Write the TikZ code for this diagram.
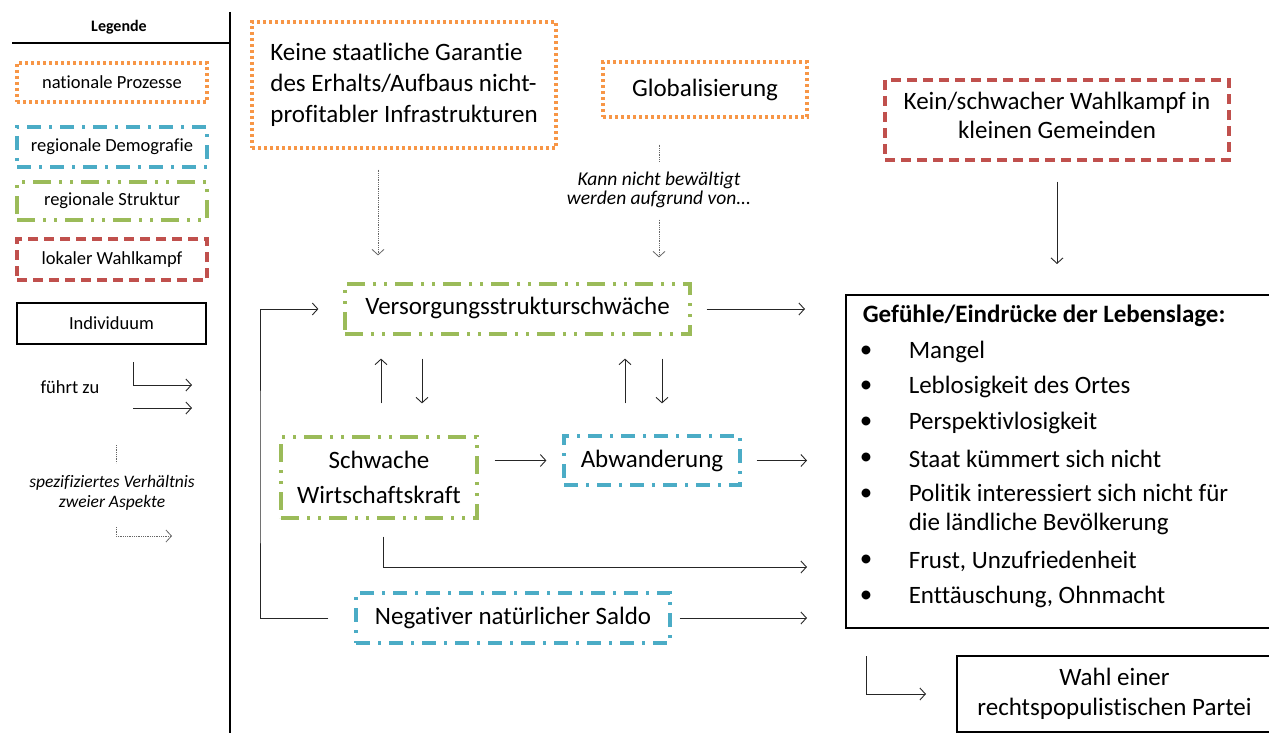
\documentclass[tikz,border=0pt]{standalone}
\usepackage{fontspec}
\setmainfont[Ligatures=NoCommon]{Carlito}
\usetikzlibrary{arrows.meta,positioning,calc}

\definecolor{natorange}{HTML}{F79646}
\definecolor{demblue}{HTML}{4BACC6}
\definecolor{strgreen}{HTML}{9BBB59}
\definecolor{wkred}{HTML}{C0504D}

\newcommand{\maintxt}{\fontsize{25}{31}\selectfont}
\newcommand{\legtxt}{\fontsize{18.5}{20}\selectfont}
\newcommand{\smalltxt}{\fontsize{19.5}{19}\selectfont\itshape}

\begin{document}
\begin{tikzpicture}
[x=1pt, y=-1pt, line width=0.9pt, >={Straight Barb[length=5.5pt,width=12pt]},
natbox/.style={rectangle, draw=natorange, line width=3.2pt, dash pattern=on 3pt off 3pt, inner sep=0pt, align=center},
dembox/.style={rectangle, draw=demblue, line width=3.2pt, dash pattern=on 14pt off 8pt on 3pt off 8pt, inner sep=0pt, align=center},
strbox/.style={rectangle, draw=strgreen, line width=3.2pt, dash pattern=on 18pt off 8pt on 3pt off 8pt on 3pt off 8pt, inner sep=0pt, align=center},
wkbox/.style={rectangle, draw=wkred, line width=3.2pt, dash pattern=on 10pt off 6pt, inner sep=0pt, align=center},
indbox/.style={rectangle, draw, line width=2pt, inner sep=0pt, align=center},
leads/.style={->, draw=black!85},
specrel/.style={->, draw=black!60, densely dotted, line width=0.8pt}]

\useasboundingbox (0,0) rectangle (1269,733);

% Legende
\node[font=\fontsize{16}{18}\selectfont\bfseries] (legende) at (119,27) {Legende};
\coordinate (sepl) at (12,43);
\coordinate (sepr) at (230,43);
\coordinate (septop) at (230,12);
\coordinate (sepbot) at (230,733);
\draw[line width=1.4pt] (sepl) -- (sepr);
\draw[line width=1.4pt] (septop) -- (sepbot);

\node[natbox, minimum width=190, minimum height=39, font=\legtxt] (lnat) at (112,82.5) {nationale Prozesse};
\node[dembox, minimum width=190, minimum height=40, font=\legtxt] (ldem) at (112,147) {regionale Demografie};
\node[strbox, minimum width=190, minimum height=38, font=\legtxt] (lstr) at (112,201) {regionale Struktur};
\node[wkbox, minimum width=190, minimum height=41, font=\legtxt] (lwk) at (112,259.5) {lokaler Wahlkampf};
\node[indbox, minimum width=189, minimum height=41, font=\legtxt] (lind) at (111.5,323.5) {Individuum};

\node[font=\legtxt] (fuehrt) at (70,387) {führt zu};
\coordinate (fa1) at (133,362);
\coordinate (fa1e) at (192,385);
\coordinate (fa2) at (133,408);
\coordinate (fa2e) at (192,408);
\draw[leads] (fa1) |- (fa1e);
\draw[leads] (fa2) -- (fa2e);

\coordinate (sp1) at (116,445);
\coordinate (sp1e) at (116,463);
\draw[specrel, -] (sp1) -- (sp1e);
\node[font=\fontsize{17.5}{20}\selectfont\itshape, align=center] (spez) at (112,493) {spezifiziertes Verhältnis\\zweier Aspekte};
\coordinate (sp2) at (116,527);
\coordinate (sp2e) at (172,536);
\draw[specrel] (sp2) |- (sp2e);

% nationale Prozesse
\node[natbox, minimum width=304, minimum height=126, font=\maintxt, align=left] (ksg) at (404,85)
  {Keine staatliche Garantie\\des Erhalts/Aufbaus nicht-\\profitabler Infrastrukturen};
\node[natbox, minimum width=204, minimum height=55, font=\maintxt] (glob) at (705,89.5) {Globalisierung};

% lokaler Wahlkampf
\node[wkbox, minimum width=344, minimum height=80, font=\fontsize{25}{29}\selectfont] (kwk) at (1057,120)
  {Kein/schwacher Wahlkampf in\\kleinen Gemeinden\rule[-9pt]{0pt}{0pt}};

% regionale Struktur / Demografie
\node[strbox, minimum width=345, minimum height=50, font=\maintxt] (vss) at (517.5,309) {Versorgungsstrukturschwäche\rule[-6pt]{0pt}{0pt}};
\node[strbox, minimum width=196, minimum height=81, font=\fontsize{25}{35}\selectfont] (swk) at (379,477.5) {Schwache\\Wirtschaftskraft};
\node[dembox, minimum width=176, minimum height=49, font=\maintxt] (abw) at (652,460.5) {Abwanderung};
\node[dembox, minimum width=314, minimum height=50, font=\maintxt] (nns) at (513,618) {Negativer natürlicher Saldo};

% Individuum
\node[indbox, minimum width=426, minimum height=333] (gef) at (1059,461.5) {};
\node[font=\maintxt\bfseries, anchor=west] (gtitle) at (859,316) {Gefühle/Eindrücke der Lebenslage:};
\node[font=\maintxt] (b1) at (866,352) {\textbullet};
\node[font=\maintxt, anchor=west] (g1) at (905,352) {Mangel};
\node[font=\maintxt] (b2) at (866,387) {\textbullet};
\node[font=\maintxt, anchor=west] (g2) at (905,387) {Leblosigkeit des Ortes};
\node[font=\maintxt] (b3) at (866,423) {\textbullet};
\node[font=\maintxt, anchor=west] (g3) at (905,423) {Perspektivlosigkeit};
\node[font=\maintxt] (b4) at (866,459) {\textbullet};
\node[font=\maintxt, anchor=west] (g4) at (905,459) {Staat kümmert sich nicht};
\node[font=\maintxt] (b5) at (866,495) {\textbullet};
\node[font=\fontsize{25}{29}\selectfont, anchor=west, align=left] (g5) at (905,509.5) {Politik interessiert sich nicht für\\die ländliche Bevölkerung};
\node[font=\maintxt] (b6) at (866,561) {\textbullet};
\node[font=\maintxt, anchor=west] (g6) at (905,561) {Frust, Unzufriedenheit};
\node[font=\maintxt] (b7) at (866,597) {\textbullet};
\node[font=\maintxt, anchor=west] (g7) at (905,597) {Enttäuschung, Ohnmacht};

\node[indbox, minimum width=315, minimum height=76, font=\fontsize{25}{30}\selectfont] (wahl) at (1114.5,694)
  {Wahl einer\\rechtspopulistischen Partei};

% Verhaeltnisse
\draw[specrel, shorten <=20pt, shorten >=27pt] (ksg.south -| 378,0) -- (vss.north -| 378,0);
\node[font=\smalltxt, align=center] (kann) at (659,190) {Kann nicht bewältigt\\werden aufgrund von...};
\draw[specrel, -, shorten <=26pt, shorten >=7pt] (kann.north |- glob.south) -- (kann.north);
\draw[specrel, shorten <=8pt, shorten >=25pt] (kann.south) -- (kann.south |- vss.north);

% fuehrt zu
\draw[leads, shorten <=20pt, shorten >=30pt] (kwk.south) -- (kwk.south |- gef.north);
\draw[leads, shorten <=15pt, shorten >=40pt] (vss.east) -- (vss.east -| gef.west);
\draw[leads, shorten <=32pt, shorten >=23pt] (swk.north -| 381,0) -- (vss.south -| 381,0);
\draw[leads, shorten <=23pt, shorten >=32pt] (vss.south -| 422,0) -- (swk.north -| 422,0);
\draw[leads, shorten <=31pt, shorten >=23pt] (abw.north -| 625,0) -- (vss.south -| 625,0);
\draw[leads, shorten <=23pt, shorten >=31pt] (vss.south -| 662,0) -- (abw.north -| 662,0);
\draw[leads, shorten <=16pt, shorten >=16pt] (abw.west -| swk.east) -- (abw.west);
\draw[leads, shorten <=15pt, shorten >=38pt] (abw.east) -- (abw.east -| gef.west);
\draw[leads, shorten <=17pt, shorten >=38pt] (swk.south -| 383,0) |- (gef.west |- 0,567);
\draw[leads, shorten <=8pt, shorten >=38pt] (nns.east) -- (nns.east -| gef.west);
\coordinate (loopx) at (260,470);
\draw[leads, shorten <=26pt, shorten >=25pt] (nns.west) -| (loopx) |- (vss.west);
\draw[leads, shorten <=27pt, shorten >=30pt] (gef.south -| 866,0) |- (wahl.west);

\end{tikzpicture}
\end{document}
